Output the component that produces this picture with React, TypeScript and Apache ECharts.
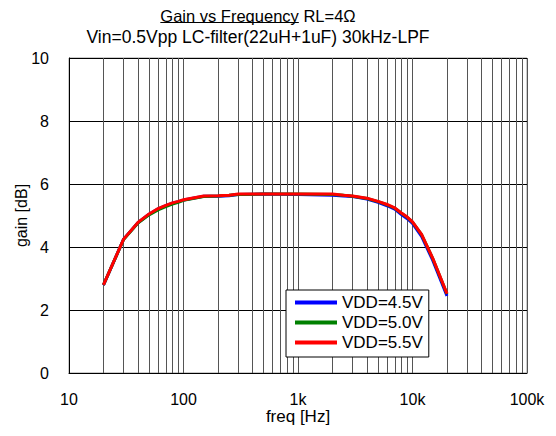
import React, { useEffect, useRef } from "react";
import * as echarts from "echarts";

const freqs = [20, 30, 40, 50, 60, 70, 80, 90, 100, 150, 200, 250, 300, 500, 1000, 2000, 2500, 3000, 4000, 5000, 6000, 7000, 8000, 9000, 10000, 12000, 15000, 20000];
const gainVdd45 = [2.79, 4.25, 4.77, 5.04, 5.21, 5.31, 5.39, 5.44, 5.49, 5.61, 5.61, 5.63, 5.67, 5.68, 5.67, 5.64, 5.62, 5.6, 5.52, 5.42, 5.31, 5.2, 5.03, 4.9, 4.75, 4.34, 3.58, 2.45];
const gainVdd50 = [2.8, 4.24, 4.76, 5.02, 5.18, 5.28, 5.36, 5.42, 5.48, 5.6, 5.62, 5.64, 5.67, 5.68, 5.68, 5.67, 5.64, 5.61, 5.54, 5.44, 5.34, 5.23, 5.07, 4.94, 4.79, 4.39, 3.64, 2.51];
const gainVdd55 = [2.8, 4.25, 4.78, 5.05, 5.22, 5.32, 5.4, 5.45, 5.5, 5.62, 5.63, 5.64, 5.68, 5.68, 5.68, 5.68, 5.64, 5.62, 5.55, 5.45, 5.35, 5.24, 5.08, 4.95, 4.8, 4.4, 3.65, 2.52];
const seriesNames = ["VDD=4.5V", "VDD=5.0V", "VDD=5.5V"];
const seriesColors = ["#0000ff", "#008000", "#ff0000"];
const minorGridFreqs = [
  20, 30, 40, 50, 60, 70, 80, 90,
  200, 300, 400, 500, 600, 700, 800, 900,
  2000, 3000, 4000, 5000, 6000, 7000, 8000, 9000,
  20000, 30000, 40000, 50000, 60000, 70000, 80000, 90000,
];
const xTickLabels: Record<number, string> = { 10: "10", 100: "100", 1000: "1k", 10000: "10k", 100000: "100k" };
const titleMain = "Gain vs Frequency";
const titleRest = " RL=4\u03a9";
const subtitle = "Vin=0.5Vpp LC-filter(22uH+1uF) 30kHz-LPF";

const FONT = '"Liberation Sans", Arial, sans-serif';

function measure(text: string, size: number): number {
  const c = document.createElement("canvas").getContext("2d");
  if (!c) return text.length * size * 0.55;
  c.font = `${size}px "Liberation Sans"`;
  return c.measureText(text).width;
}

export default function App() {
  const ref = useRef<HTMLDivElement>(null);
  useEffect(() => {
    if (!ref.current) return;
    const chart = echarts.init(ref.current, undefined, { renderer: "svg" });
    const tSize = 16.5;
    const sSize = 17.5;
    const wMain = measure(titleMain, tSize);
    const wRest = measure(titleRest, tSize);
    const tCenter = 258;
    const tLeft = tCenter - (wMain + wRest) / 2;
    const allGains = [gainVdd45, gainVdd50, gainVdd55];
    chart.setOption({
      animation: false,
      backgroundColor: "#ffffff",
      textStyle: { fontFamily: FONT },
      grid: { left: 69, right: 29, top: 58, bottom: 63, show: true, borderColor: "#999", borderWidth: 1 },
      legend: {
        data: seriesNames,
        orient: "vertical",
        left: 286,
        top: 290,
        z: 20,
        backgroundColor: "#ffffff",
        borderColor: "#000",
        borderWidth: 1,
        borderRadius: 0,
        padding: [4, 6, 6, 9],
        itemGap: 3,
        itemWidth: 42,
        itemHeight: 4,
        icon: "rect",
        textStyle: { fontSize: 17, color: "#000", fontFamily: FONT, padding: [0, 0, 0, 0] },
      },
      graphic: [
        { type: "text", x: tLeft, y: 15.5, style: { text: titleMain, font: `${tSize}px ${FONT}`, fill: "#000", textAlign: "left", textVerticalAlign: "middle" } },
        { type: "text", x: tLeft + wMain, y: 15.5, style: { text: titleRest, font: `${tSize}px ${FONT}`, fill: "#000", textAlign: "left", textVerticalAlign: "middle" } },
        { type: "line", shape: { x1: tLeft, y1: 22.5, x2: tLeft + wMain, y2: 22.5 }, style: { stroke: "#000", lineWidth: 1 } },
        { type: "text", x: tCenter, y: 37, style: { text: subtitle, font: `${sSize}px ${FONT}`, fill: "#000", textAlign: "center", textVerticalAlign: "middle" } },
      ],
      xAxis: {
        type: "log",
        logBase: 10,
        min: 10,
        max: 100000,
        name: "freq [Hz]",
        nameLocation: "middle",
        nameGap: 43,
        nameMoveOverlap: false,
        nameTextStyle: { fontSize: 17, color: "#000", fontFamily: FONT, verticalAlign: "middle", lineHeight: 14 },
        axisLine: { show: true, lineStyle: { color: "#000", width: 1 } },
        axisTick: { show: false },
        axisLabel: { fontSize: 16, color: "#000", margin: 20, lineHeight: 12, formatter: (v: number) => xTickLabels[Math.round(v)] ?? "" },
        splitLine: { show: true, lineStyle: { color: "#555", width: 1 } },
      },
      yAxis: {
        type: "value",
        min: 0,
        max: 10,
        interval: 2,
        name: "gain [dB]",
        nameLocation: "middle",
        nameGap: 48,
        nameMoveOverlap: false,
        nameTextStyle: { fontSize: 16, color: "#000", fontFamily: FONT, verticalAlign: "middle" },
        axisLine: { show: true, lineStyle: { color: "#000", width: 1 } },
        axisTick: { show: false },
        axisLabel: { fontSize: 16, color: "#000", margin: 20 },
        splitLine: { show: true, lineStyle: { color: "#000", width: 1 } },
      },
      series: [
        {
          name: "grid",
          type: "line",
          data: [],
          z: 1,
          silent: true,
          markLine: {
            silent: true,
            symbol: ["none", "none"],
            label: { show: false },
            lineStyle: { color: "#555", width: 1, type: "solid" },
            data: minorGridFreqs.map((f) => ({ xAxis: f })),
          },
        },
        ...seriesNames.map((name, i) => ({
          name,
          type: "line",
          z: 6 + i,
          showSymbol: false,
          symbol: "none",
          color: seriesColors[i],
          lineStyle: { color: seriesColors[i], width: 3 },
          data: freqs.map((f, j) => [f, allGains[i][j]]),
        })),
      ],
    });
    return () => chart.dispose();
  }, []);
  return <div ref={ref} style={{ width: 556, height: 436, margin: -8 }} />;
}
